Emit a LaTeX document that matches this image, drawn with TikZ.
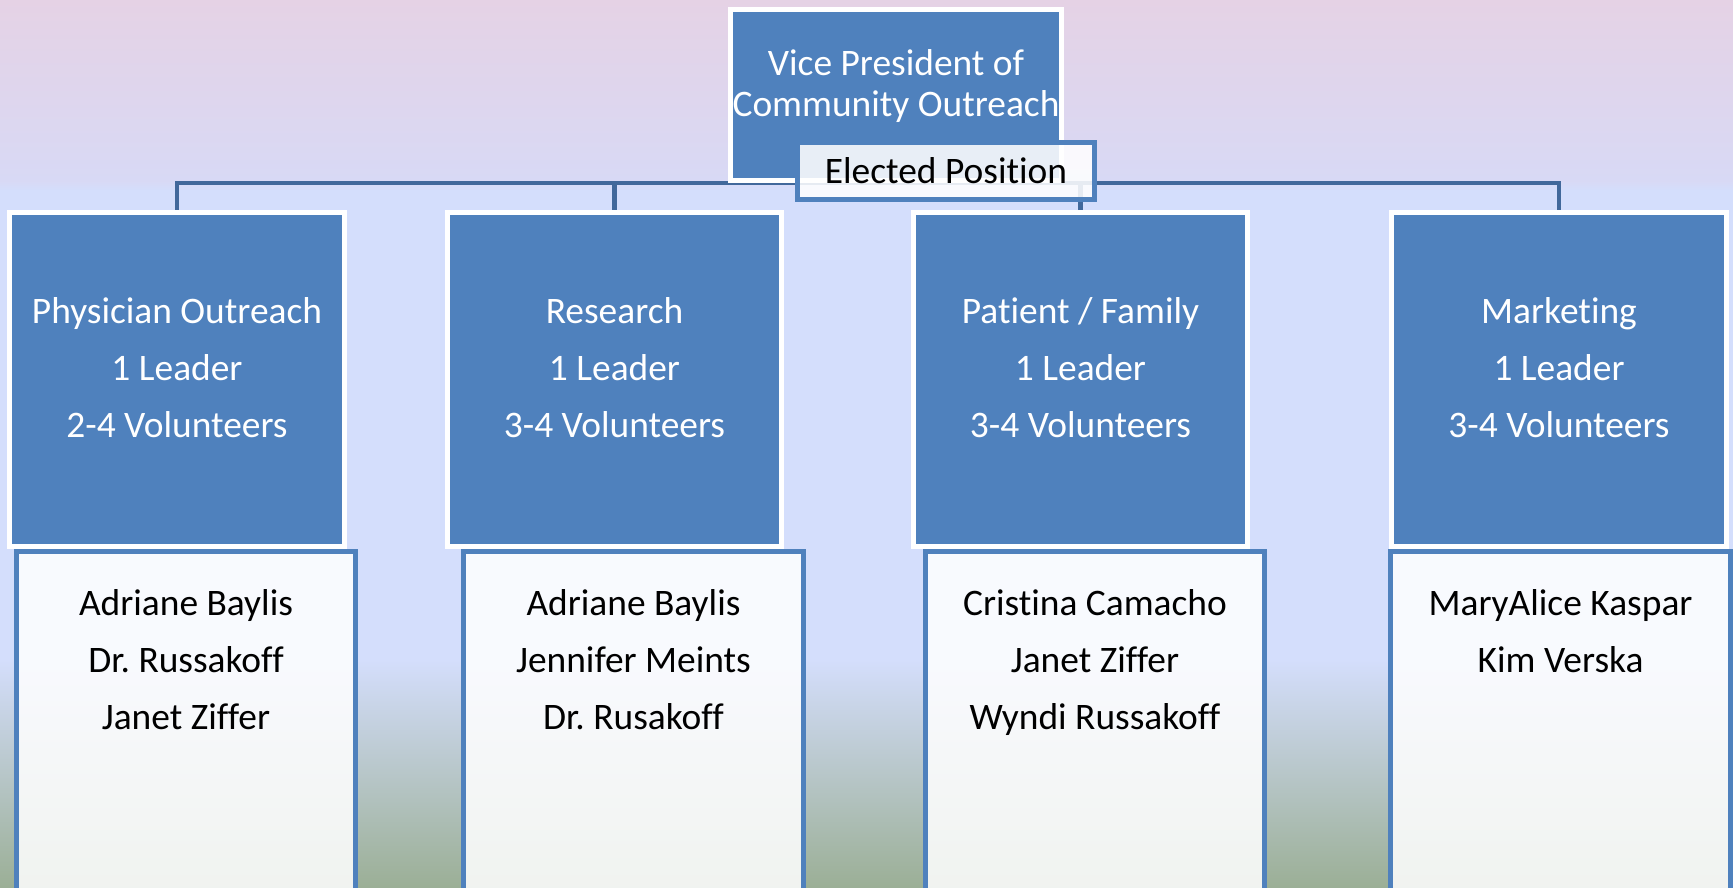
\documentclass[tikz,border=0pt]{standalone}
\usepackage{fontspec}
\setmainfont{Carlito}[Ligatures=NoCommon]
\frenchspacing
\usetikzlibrary{positioning}

\definecolor{boxblue}{HTML}{4F81BD}
\definecolor{linkblue}{HTML}{41689B}
\definecolor{skytop}{RGB}{229,210,229}
\definecolor{skymid}{RGB}{216,217,245}
\definecolor{skyblue}{RGB}{212,222,252}
\definecolor{skyfoot}{RGB}{155,175,150}
\pgfdeclareverticalshading{slidebg}{100bp}{color(0bp)=(skyfoot); color(25bp)=(skyfoot); color(37.85bp)=(skyblue); color(64.29bp)=(skyblue); color(64.8bp)=(skymid); color(75bp)=(skytop); color(100bp)=(skytop)}
\pgfdeclarelayer{backdrop}
\pgfdeclarelayer{wires}
\pgfsetlayers{backdrop,wires,main}

\begin{document}
\begin{tikzpicture}[
        x=0.02cm, y=-0.02cm,
        every node/.style={font=\fontsize{21.3pt}{32.4pt}\selectfont, align=center, inner sep=0pt},
        head/.style={draw=white, line width=0.1cm, fill=boxblue, minimum width=6.62cm, minimum height=3.42cm},
        tag/.style={draw=boxblue, line width=0.1cm, fill=white, fill opacity=0.87, text opacity=1, minimum width=5.94cm, minimum height=1.14cm},
        team/.style={draw=white, line width=0.1cm, fill=boxblue, minimum width=6.7cm, minimum height=6.68cm},
        crew/.style={draw=boxblue, line width=0.1cm, fill=white, fill opacity=0.86, text opacity=1, minimum width=6.8cm, minimum height=6.78cm},
        lbl/.style={text=white},
        link/.style={draw=linkblue, line width=0.09cm}
    ]
    \useasboundingbox (0,0) rectangle (1733,887);
    \begin{pgfonlayer}{backdrop}
        \shade[shading=slidebg] (0,0) rectangle (1733,887);
    \end{pgfonlayer}

    \node[head] (vp) at (896,95) {};
    \node[lbl, anchor=north, font=\fontsize{21.3pt}{23.3pt}\selectfont] (vpt) at ([yshift=-0.84cm]vp.north) {Vice President of\\Community Outreach};
    \node[tag] (elected) at (946,171) {Elected Position};

    \node[team] (phys) at (177,379.5) {};
    \node[team] (res) at (614.5,379.5) {};
    \node[team] (fam) at (1080.5,379.5) {};
    \node[team] (mkt) at (1559,379.5) {};

    \node[crew, below=0pt of phys, xshift=0.18cm] (physv) {};
    \node[crew, below=0pt of res, xshift=0.38cm] (resv) {};
    \node[crew, below=0pt of fam, xshift=0.29cm] (famv) {};
    \node[crew, below=0pt of mkt, xshift=0.03cm] (mktv) {};

    \node[lbl] (physt) at ([yshift=0.24cm]phys.center) {Physician Outreach\\1 Leader\\2-4 Volunteers};
    \node[lbl] (rest) at ([yshift=0.24cm]res.center) {Research\\1 Leader\\3-4 Volunteers};
    \node[lbl] (famt) at ([yshift=0.24cm]fam.center) {Patient / Family\\1 Leader\\3-4 Volunteers};
    \node[lbl] (mktt) at ([yshift=0.24cm]mkt.center) {Marketing\\1 Leader\\3-4 Volunteers};

    \node[anchor=north] (physn) at ([yshift=-0.81cm]physv.north) {Adriane Baylis\\Dr. Russakoff\\Janet Ziffer};
    \node[anchor=north] (resn) at ([yshift=-0.81cm]resv.north) {Adriane Baylis\\Jennifer Meints\\Dr. Rusakoff};
    \node[anchor=north] (famn) at ([yshift=-0.81cm]famv.north) {Cristina Camacho\\Janet Ziffer\\Wyndi Russakoff};
    \node[anchor=north] (mktn) at ([yshift=-0.81cm]mktv.north) {MaryAlice Kaspar\\Kim Verska};

    \begin{pgfonlayer}{wires}
        \draw[link] (phys.north) |- (vp.south);
        \draw[link] (res.north) |- (vp.south);
        \draw[link] (fam.north) |- (vp.south);
        \draw[link] (mkt.north) |- (vp.south);
    \end{pgfonlayer}
\end{tikzpicture}
\end{document}
